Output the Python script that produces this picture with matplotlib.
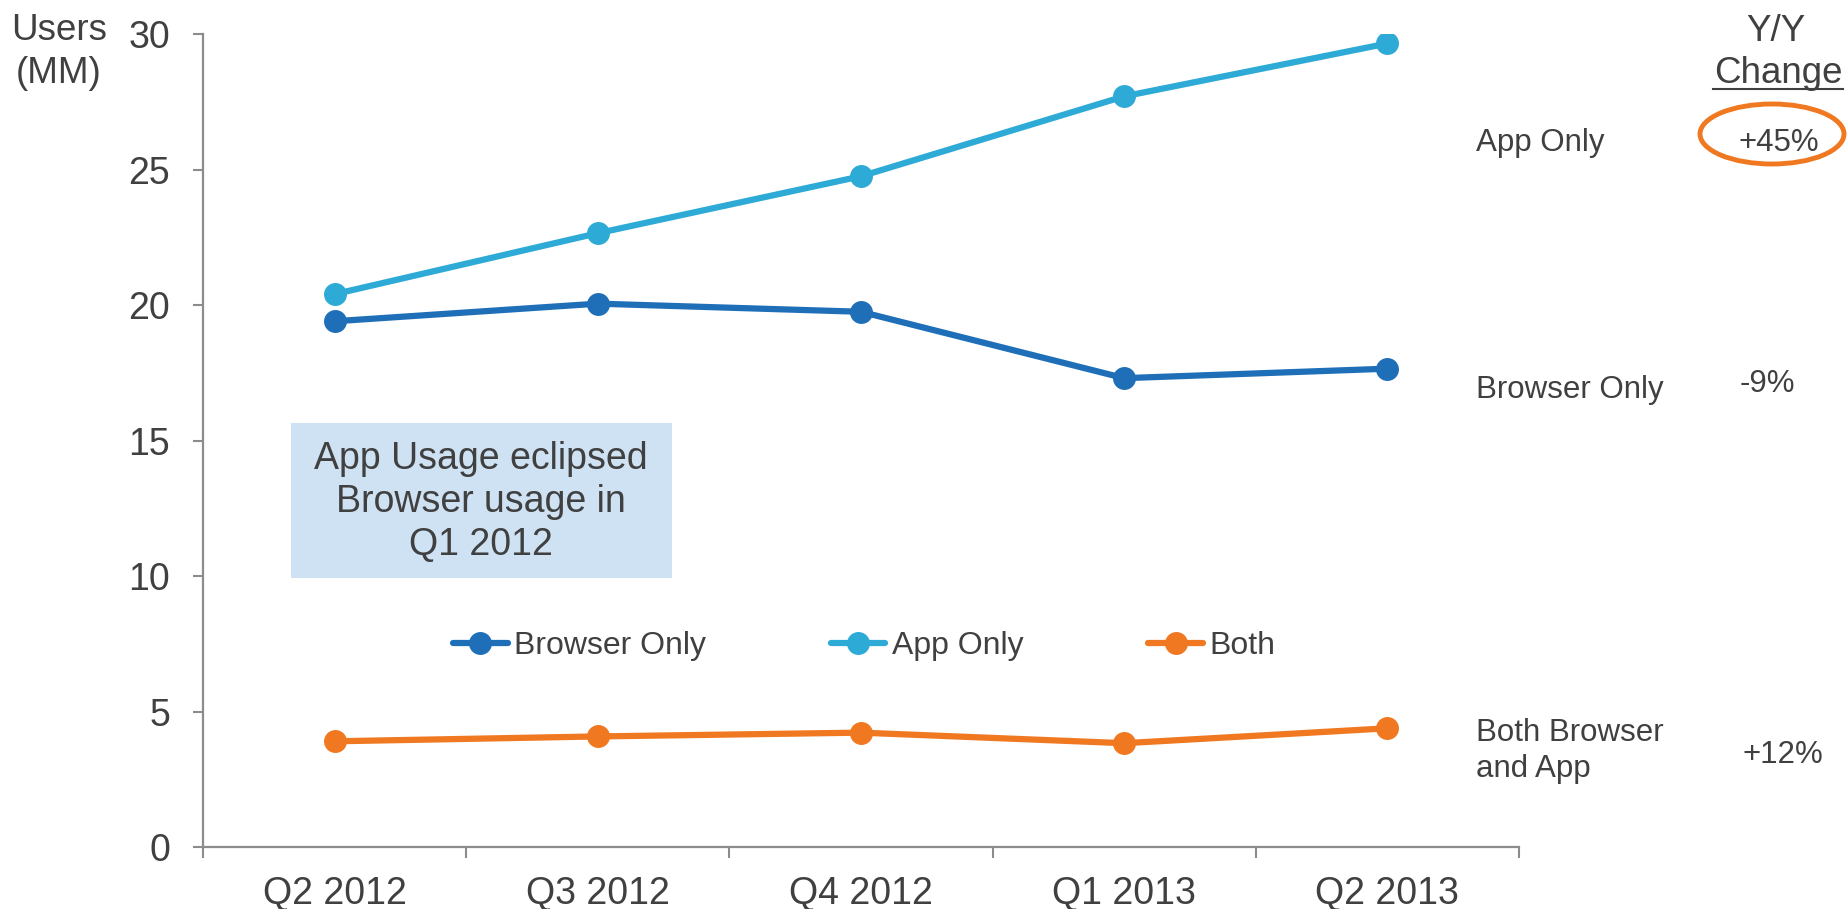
import matplotlib
matplotlib.use("Agg")
import matplotlib.pyplot as plt
from matplotlib.patches import Ellipse, Rectangle
from matplotlib.lines import Line2D

plt.rcParams['font.family'] = ['Liberation Sans', 'DejaVu Sans']

# Quarterly users (millions)
quarters = ["Q2 2012", "Q3 2012", "Q4 2012", "Q1 2013", "Q2 2013"]
browser_only = [19.4, 20.05, 19.75, 17.3, 17.65]
app_only = [20.4, 22.65, 24.75, 27.7, 29.65]
both = [3.9, 4.08, 4.22, 3.83, 4.38]

series_names = ["Browser Only", "App Only", "Both"]
side_labels = ["App Only", "Browser Only", "Both Browser\nand App"]
yy_changes = ["+45%", "-9%", "+12%"]

y_ticks = [0, 5, 10, 15, 20, 25, 30]

TEXT = "#404040"
AXIS = "#8C8C8C"
C_BROWSER = "#1F6FB8"
C_APP = "#2EAAD6"
C_BOTH = "#F07820"

W, H = 1847, 909
fig = plt.figure(figsize=(W / 100, H / 100), dpi=100)


def fx(px):
    return px / W


def fy(py):
    return 1 - py / H


ax = fig.add_axes([fx(203), fy(847), fx(1519 - 203), (847 - 34) / H])
ax.patch.set_visible(False)

x = list(range(len(quarters)))
line_kw = dict(linewidth=4.5, marker="o", markersize=15.5, solid_capstyle="round")
ax.plot(x, browser_only, color=C_BROWSER, label=series_names[0], **line_kw)
ax.plot(x, app_only, color=C_APP, label=series_names[1], **line_kw)
ax.plot(x, both, color=C_BOTH, label=series_names[2], **line_kw)

ax.set_xlim(-0.5, len(quarters) - 0.5)
ax.set_ylim(0, 30)
ax.set_yticks(y_ticks)
ax.set_xticks(x)
ax.set_xticklabels(quarters)
ax.set_xticks([i - 0.5 for i in range(len(quarters) + 1)], minor=True)

for side in ("top", "right"):
    ax.spines[side].set_visible(False)
for side in ("left", "bottom"):
    ax.spines[side].set_color(AXIS)
    ax.spines[side].set_linewidth(1.6)

ax.tick_params(axis="y", which="major", direction="out", length=7.5, width=1.5,
               color=AXIS, labelsize=27, labelcolor=TEXT, pad=16)
ax.tick_params(axis="x", which="major", length=0, labelsize=27, labelcolor=TEXT, pad=21)
ax.tick_params(axis="x", which="minor", direction="out", length=8, width=1.5, color=AXIS)

# Legend in the middle of the plot
fig.legend(loc="center", bbox_to_anchor=(fx(864), fy(646)), ncol=3, frameon=False,
           fontsize=23, labelcolor=TEXT, handlelength=1.72, handletextpad=0.2,
           columnspacing=3.9, borderpad=0, borderaxespad=0, markerscale=1.0)

# Callout box
fig.add_artist(Rectangle((fx(291), fy(578)), fx(672 - 291), (578 - 423) / H,
                         transform=fig.transFigure, facecolor="#CFE2F3",
                         edgecolor="none", zorder=1))
fig.text(fx(481), fy(502), "App Usage eclipsed\nBrowser usage in\nQ1 2012",
         ha="center", va="center", fontsize=27, color=TEXT, linespacing=1.24, zorder=3)

# Y-axis title
fig.text(fx(59), fy(40), "Users", ha="center", va="baseline", fontsize=26.5, color=TEXT)
fig.text(fx(59), fy(83), "(MM)", ha="center", va="baseline", fontsize=26.5, color=TEXT)

# Year-over-year column
fig.text(fx(1776), fy(41), "Y/Y", ha="center", va="baseline", fontsize=26.5, color=TEXT)
fig.text(fx(1778), fy(83), "Change", ha="center", va="baseline", fontsize=26.5, color=TEXT)
fig.add_artist(Line2D([fx(1713), fx(1843)], [fy(89), fy(89)], transform=fig.transFigure,
                      color=TEXT, linewidth=1.5))

fig.text(fx(1476), fy(151), side_labels[0], ha="left", va="baseline", fontsize=22.5, color=TEXT)
fig.text(fx(1476), fy(398), side_labels[1], ha="left", va="baseline", fontsize=22.5, color=TEXT)
fig.text(fx(1476), fy(777), side_labels[2], ha="left", va="baseline", fontsize=22.5,
         color=TEXT, linespacing=1.27)

fig.text(fx(1779), fy(151), yy_changes[0], ha="center", va="baseline", fontsize=22.5, color=TEXT)
fig.text(fx(1767), fy(392), yy_changes[1], ha="center", va="baseline", fontsize=22.5, color=TEXT)
fig.text(fx(1783), fy(763), yy_changes[2], ha="center", va="baseline", fontsize=22.5, color=TEXT)

fig.add_artist(Ellipse((fx(1772), fy(134)), fx(144), 60 / H, transform=fig.transFigure,
                       facecolor="none", edgecolor=C_BOTH, linewidth=3.5))

fig.savefig("out.png", dpi=100, facecolor="white")
